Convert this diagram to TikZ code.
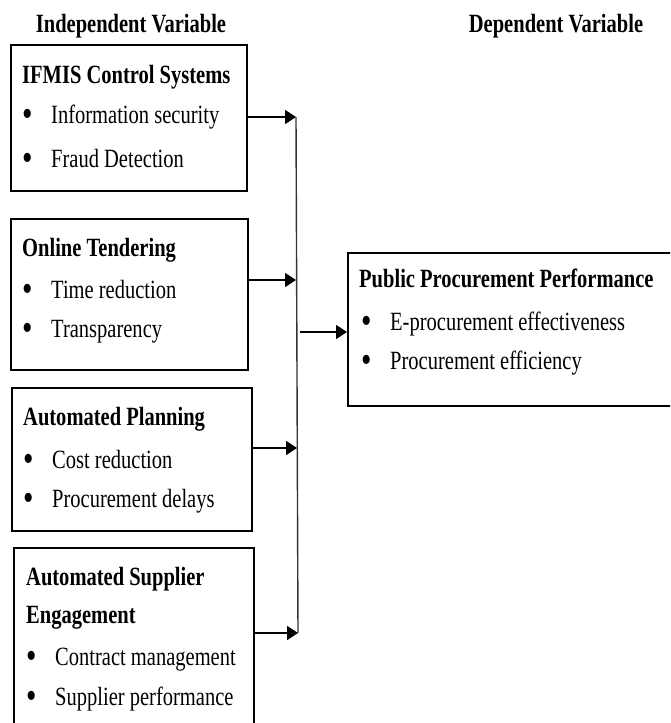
\documentclass[tikz,border=0pt]{standalone}
\usepackage{fontspec}
\setmainfont{Liberation Serif}[FakeStretch=0.78]
\usetikzlibrary{arrows.meta}

\newcommand{\figfont}{\fontsize{26.3}{30}\selectfont}
\tikzset{
  varbox/.style={draw, line width=1.8pt, inner sep=0pt, anchor=north west},
  head/.style={font=\figfont\bfseries, anchor=base west, inner sep=0pt},
  item/.style={font=\figfont, anchor=base west, inner sep=0pt},
  link/.style={line width=1.8pt, -{Triangle[length=11pt, width=14pt]}},
  bus/.style={line width=1.4pt, draw=black!80}
}
\newcommand{\bitem}[1]{\makebox[29pt][l]{\raisebox{-3.5pt}{\scalebox{1.45}{\textbullet}}}#1}

\begin{document}
\begin{tikzpicture}[x=1pt, y=-1pt]
  \useasboundingbox (0,0) rectangle (670,723);
  \clip (0,0) rectangle (670,723);

  % Column titles
  \node[head, anchor=base] (indep) at (131,32) {Independent Variable};
  \node[head, anchor=base] (dep) at (556,32) {Dependent Variable};

  % IFMIS control systems
  \node[varbox, minimum width=236pt, minimum height=146pt] (ifmis) at (10,44) {};
  \node[head] (ifmisT) at (22,83) {IFMIS Control Systems};
  \node[item] (ifmisA) at (22,123) {\bitem{Information security}};
  \node[item] (ifmisB) at (22,167) {\bitem{Fraud Detection}};

  % Online tendering
  \node[varbox, minimum width=237pt, minimum height=151pt] (tender) at (10,218) {};
  \node[head] (tenderT) at (22,256) {Online Tendering};
  \node[item] (tenderA) at (22,298) {\bitem{Time reduction}};
  \node[item] (tenderB) at (22,337) {\bitem{Transparency}};

  % Automated planning
  \node[varbox, minimum width=240pt, minimum height=143pt] (plan) at (11,387) {};
  \node[head] (planT) at (23,425) {Automated Planning};
  \node[item] (planA) at (23,468) {\bitem{Cost reduction}};
  \node[item] (planB) at (23,507) {\bitem{Procurement delays}};

  % Automated supplier engagement (cut off at the bottom)
  \node[varbox, minimum width=240pt, minimum height=200pt] (supplier) at (13,547) {};
  \node[head] (supplierT) at (26,585) {Automated Supplier};
  \node[head] (supplierU) at (26,623) {Engagement};
  \node[item] (supplierA) at (26,665) {\bitem{Contract management}};
  \node[item] (supplierB) at (26,705) {\bitem{Supplier performance}};

  % Public procurement performance (cut off at the right)
  \node[varbox, minimum width=340pt, minimum height=153pt] (perf) at (347,252) {};
  \node[head] (perfT) at (359,287) {Public Procurement Performance};
  \node[item] (perfA) at (361,330) {\bitem{E-procurement effectiveness}};
  \node[item] (perfB) at (361,369) {\bitem{Procurement efficiency}};

  % Collecting line
  \coordinate (bus1) at (296,117);
  \coordinate (bus2) at (296,280);
  \coordinate (bus3) at (297,448);
  \coordinate (bus4) at (298,633);
  \coordinate (busout) at (300,332);

  \draw[bus] (bus1) -- (bus4);
  \draw[link] (ifmis.east |- bus1) -- (bus1);
  \draw[link] (tender.east |- bus2) -- (bus2);
  \draw[link] (plan.east |- bus3) -- (bus3);
  \draw[link] (supplier.east |- bus4) -- (bus4);
  \draw[link] (busout) -- (perf.west |- busout);
\end{tikzpicture}
\end{document}
